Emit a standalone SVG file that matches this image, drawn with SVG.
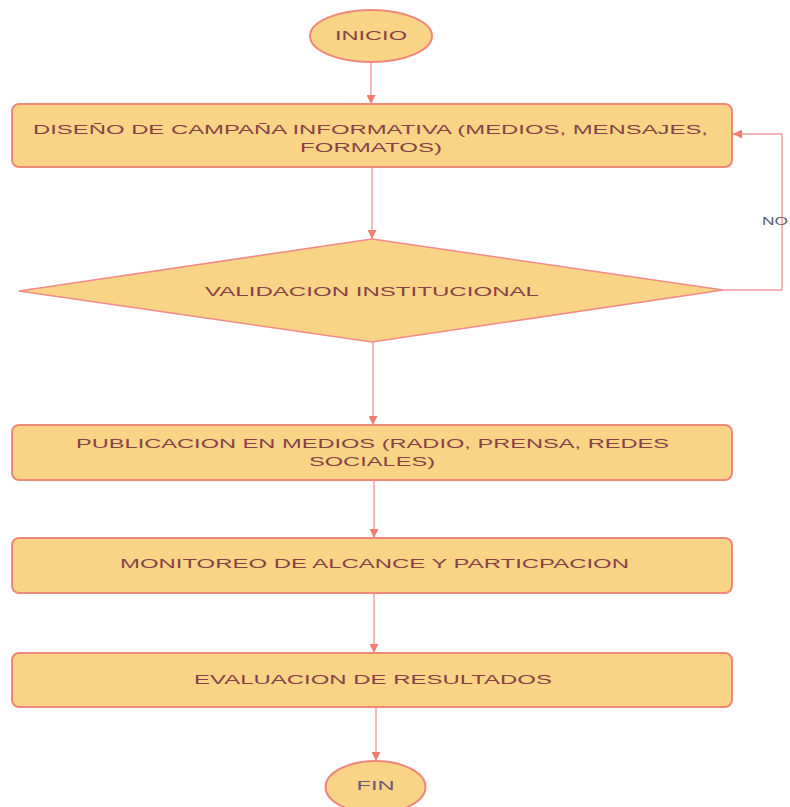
<svg xmlns="http://www.w3.org/2000/svg" width="790" height="807" viewBox="0 0 790 807">
<defs>
<marker id="arr" viewBox="0 0 10 10" refX="10" refY="5" markerWidth="9" markerHeight="9" markerUnits="userSpaceOnUse" orient="auto">
<path d="M0,0 L10,5 L0,10 z" fill="#F07C72"/>
</marker>
</defs>
<style>
.node{fill:#F9D486;stroke:#EF8878;stroke-width:2}
.dia{fill:#F9D486;stroke:#F08C88;stroke-width:1.6}
.lbl{font-family:"Liberation Sans",Arial,sans-serif;font-size:12.5px;fill:#864246;text-anchor:middle}
.conn{fill:none;stroke:#F29A9A;stroke-width:1.4}
.no{font-family:"Liberation Sans",Arial,sans-serif;font-size:10px;fill:#5A5C6C}
</style>
<rect width="790" height="807" fill="#FFFFFF"/>
<g id="connectors">
<path class="conn" d="M371 62 V104" marker-end="url(#arr)"/>
<path class="conn" d="M372 167 V239" marker-end="url(#arr)"/>
<path class="conn" d="M373 342 V425" marker-end="url(#arr)"/>
<path class="conn" d="M374 480 V538" marker-end="url(#arr)"/>
<path class="conn" d="M374 593 V653" marker-end="url(#arr)"/>
<path class="conn" d="M376 707 V761" marker-end="url(#arr)"/>
<path class="conn" d="M723 290 H782 V134 H733" marker-end="url(#arr)"/>
<text class="no" x="762" y="225" textLength="26" lengthAdjust="spacingAndGlyphs">NO</text>
</g>
<g id="inicio">
<ellipse class="node" cx="371" cy="36" rx="61" ry="26"/>
<text class="lbl" x="371" y="40" textLength="72" lengthAdjust="spacingAndGlyphs">INICIO</text>
</g>
<g id="diseno">
<rect class="node" x="12" y="104" width="720" height="63" rx="7"/>
<text class="lbl" x="370.5" y="133.5" textLength="675" lengthAdjust="spacingAndGlyphs">DISEÑO DE CAMPAÑA INFORMATIVA (MEDIOS, MENSAJES,</text>
<text class="lbl" x="371" y="152" textLength="142" lengthAdjust="spacingAndGlyphs">FORMATOS)</text>
</g>
<g id="validacion">
<polygon class="dia" points="372,239 723,290 372,342 19,291"/>
<text class="lbl" x="372" y="296" textLength="334" lengthAdjust="spacingAndGlyphs">VALIDACION INSTITUCIONAL</text>
</g>
<g id="publicacion">
<rect class="node" x="12" y="425" width="720" height="55" rx="7"/>
<text class="lbl" x="372.5" y="447.5" textLength="593" lengthAdjust="spacingAndGlyphs">PUBLICACION EN MEDIOS (RADIO, PRENSA, REDES</text>
<text class="lbl" x="372" y="466" textLength="126" lengthAdjust="spacingAndGlyphs">SOCIALES)</text>
</g>
<g id="monitoreo">
<rect class="node" x="12" y="538" width="720" height="55" rx="7"/>
<text class="lbl" x="374.5" y="567.5" textLength="509" lengthAdjust="spacingAndGlyphs">MONITOREO DE ALCANCE Y PARTICPACION</text>
</g>
<g id="evaluacion">
<rect class="node" x="12" y="653" width="720" height="54" rx="7"/>
<text class="lbl" x="373" y="683.5" textLength="358" lengthAdjust="spacingAndGlyphs">EVALUACION DE RESULTADOS</text>
</g>
<g id="fin">
<ellipse class="node" cx="375.5" cy="787" rx="50" ry="26"/>
<text class="lbl" x="375.5" y="790" textLength="38" lengthAdjust="spacingAndGlyphs" style="fill:#6A5878">FIN</text>
</g>
</svg>
